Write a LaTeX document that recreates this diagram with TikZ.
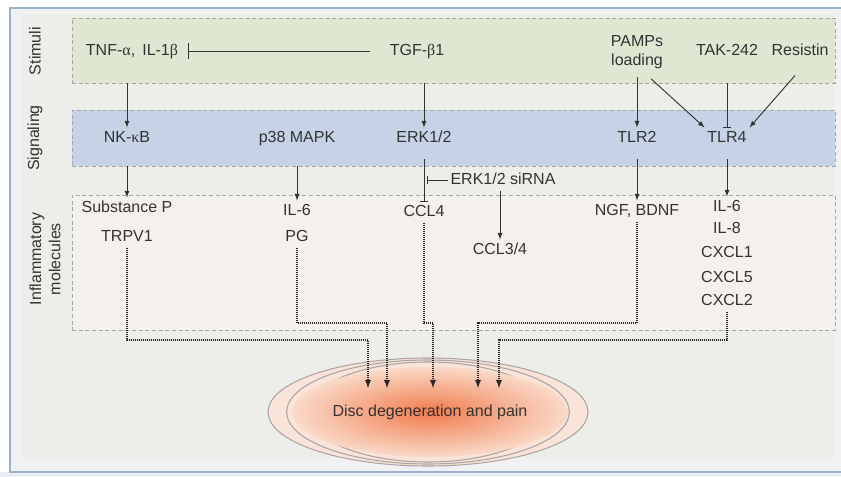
\documentclass[tikz,border=0pt]{standalone}
\usepackage{fontspec}
\setmainfont{Liberation Sans}
\newfontfamily\greekfont{Liberation Serif}
\usepackage{tikz}
\usetikzlibrary{positioning, calc, fit, shapes.geometric, arrows.meta}

\definecolor{stimgreen}{HTML}{DFE7D3}
\definecolor{signalblue}{HTML}{C6D3E6}
\definecolor{inflbeige}{HTML}{F4F0EB}
\definecolor{panelgray}{HTML}{EDEDE9}
\definecolor{paneledge}{HTML}{F1F1F3}
\definecolor{framecol}{HTML}{9DB0CF}
\definecolor{ringfill}{HTML}{FAE3D9}
\definecolor{ringline}{HTML}{A9A6A4}
\definecolor{discin}{HTML}{F07C4C}
\definecolor{discout}{HTML}{FAD9C8}
\definecolor{inkgray}{HTML}{333333}

\newcommand{\gk}[1]{{\greekfont #1}}

\begin{document}
\begin{tikzpicture}[x=0.75pt, y=-0.75pt, every node/.style={font=\fontsize{12}{14.5}\selectfont, text=inkgray}]

  \tikzstyle{band}=[draw=gray!70, densely dashed, line width=0.5pt, inner sep=0pt]
  \tikzstyle{txt}=[inner sep=2pt, text height=8.8pt, text depth=2.6pt]
  \tikzstyle{side}=[align=center, rotate=90]
  \tikzstyle{arr}=[-latex, line width=0.7pt, draw=inkgray]
  \tikzstyle{inh}=[-{Bar[width=6pt]}, line width=0.7pt, draw=inkgray]
  \tikzstyle{dotline}=[-latex, line width=1.1pt, draw=gray!30!black, dash pattern=on 0.9pt off 0.6pt]
  \tikzstyle{ring}=[fill=ringfill, draw=ringline, line width=0.8pt]

  \useasboundingbox (0,0) rectangle (841,477);
  \fill[white] (0,0) rectangle (841,477);
  \fill[framecol!20] (0,472) rectangle (841,477);
  \draw[framecol, fill=paneledge, line width=1pt] (10,8) rectangle (852,472);
  \fill[panelgray] (22,14) rectangle (834,458);

  % three bands
  \node[band, fill=stimgreen, fit={(72,18) (835,83)}] (stim) {};
  \node[band, fill=signalblue, fit={(72,110) (835,166)}] (sig) {};
  \node[band, fill=inflbeige, fit={(72,195) (835,330)}] (infl) {};

  \node[side] (lstim) at (35,51) {Stimuli};
  \node[side] (lsig) at (35,138) {Signaling};
  \node[side] (linfl) at (45,259) {Inflammatory\\molecules};

  % stimuli
  \node[txt] (tnf) at (132,51) {TNF-\gk{α},\, IL-1\gk{β}};
  \node[txt] (tgf) at (417,51) {TGF-\gk{β}1};
  \node[align=center, inner sep=2pt] (pamps) at (637,52) {PAMPs\\loading};
  \node[txt] (tak) at (727,51) {TAK-242};
  \node[txt] (resistin) at (800,51) {Resistin};

  % signaling
  \node[txt] (nfkb) at (127,138) {NK-\gk{κ}B};
  \node[txt] (p38) at (297,138) {p38 MAPK};
  \node[txt] (erk) at (424,138) {ERK1/2};
  \node[txt] (tlr2) at (637,138) {TLR2};
  \node[txt] (tlr4) at (727,138) {TLR4};

  % inflammatory molecules
  \node[txt] (subp) at (127,208) {Substance P};
  \node[txt] (trpv1) at (127,237) {TRPV1};
  \node[txt] (il6a) at (297,211) {IL-6};
  \node[txt] (pg) at (297,237) {PG};
  \node[txt] (ccl4) at (424,212) {CCL4};
  \node[txt] (ccl34) at (500,250) {CCL3/4};
  \node[txt] (ngf) at (637,211) {NGF, BDNF};
  \node[txt] (il6b) at (727,207) {IL-6};
  \node[txt] (il8) at (727,229) {IL-8};
  \node[txt] (cxcl1) at (727,253) {CXCL1};
  \node[txt] (cxcl5) at (727,278) {CXCL5};
  \node[txt] (cxcl2) at (727,301) {CXCL2};

  \node[txt] (sirna) at (503,180) {ERK1/2 siRNA};
  \coordinate (block) at (427,180);

  % disc
  \foreach \rx/\ry in {120pt/40.5pt, 106pt/39pt, 90pt/37.5pt}
    \path[ring] (428,412) ellipse [x radius=\rx, y radius=\ry];
  \node[ellipse, minimum width=150pt, minimum height=67.5pt, inner sep=0pt,
        inner color=discin, outer color=discout] (disc) at (430,412) {Disc degeneration and pain};

  \coordinate (d1) at ($(disc)+(-62,-24)$);
  \coordinate (d2) at ($(disc)+(-43,-24)$);
  \coordinate (d3) at ($(disc)+(3,-24)$);
  \coordinate (d4) at ($(disc)+(48,-24)$);
  \coordinate (d5) at ($(disc)+(69,-24)$);

  % stimuli to signaling
  \draw[-{Bar[width=12pt]}, line width=0.7pt, draw=inkgray] ([xshift=-13pt]tgf.west) -- ([xshift=5pt]tnf.east);
  \draw[arr] (nfkb |- stim.south) -- (nfkb);
  \draw[arr] (erk |- stim.south) -- (erk);
  \draw[arr] ([yshift=-4pt]pamps.south) -- (tlr2);
  \draw[arr] ($(pamps.south)+(14,7)$) -- (tlr4.north west);
  \draw[inh] (tak |- stim.south) -- (tlr4);
  \draw[arr] ($(resistin.south)+(-5,14)$) -- (tlr4.north east);

  % signaling to molecules
  \draw[arr] (nfkb |- sig.south) -- (subp);
  \draw[arr] (p38 |- sig.south) -- (il6a);
  \draw[inh] ([yshift=-8pt]erk.south) -- (ccl4);
  \draw[arr] ([yshift=-8pt]tlr2.south) -- (ngf);
  \draw[arr] ([yshift=-8pt]tlr4.south) -- (il6b);
  \draw[inh] (sirna) -- (block);
  \draw[arr] (ccl34 |- sirna.south) -- (ccl34);

  % molecules to disc
  \draw[dotline] (trpv1.south) |- ($(d1)+(0,-48)$) -- (d1);
  \draw[dotline] (pg.south) |- ($(d2)+(0,-65)$) -- (d2);
  \draw[dotline] (ccl4.south) |- ($(d3)+(0,-65)$) -- (d3);
  \draw[dotline] (ngf.south) |- ($(d4)+(0,-65)$) -- (d4);
  \draw[dotline] (cxcl2.south) |- ($(d5)+(0,-48)$) -- (d5);

\end{tikzpicture}
\end{document}
